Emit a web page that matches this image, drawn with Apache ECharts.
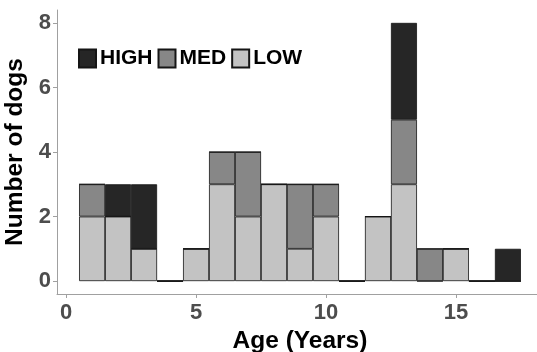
<!DOCTYPE html>
<html>
<head>
<meta charset="utf-8">
<script src="https://cdn.jsdelivr.net/npm/echarts@6/dist/echarts.min.js"></script>
<style>
html,body{margin:0;padding:0;background:#fff;}
#c{width:537px;height:352px;}
</style>
</head>
<body>
<div id="c"></div>
<script>
// Data
const ages = ['1','2','3','4','5','6','7','8','9','10','11','12','13','14','15','16','17'];
const lowCounts  = [2,2,1,0,1,3,2,3,1,2,0,2,3,0,1,0,0];
const medCounts  = [1,0,0,0,0,1,2,0,2,1,0,0,2,1,0,0,0];
const highCounts = [0,1,2,0,0,0,0,0,0,0,0,0,3,0,0,0,1];
const xTicks = [0,5,10,15];
const yTicks = [0,2,4,6,8];
const seriesNames = ['HIGH','MED','LOW'];

const xMin = -0.35, xMax = 18.35, yMin = -0.4, yMax = 8.4;
const W = 537;
const gridLeft = 57, gridRight = -6, gridTop = 10, gridBottom = 58;
const unit = (W - gridLeft - gridRight) / (xMax - xMin);
// bar grid: bins span 0.5 .. 17.5
const barLeft = gridLeft + (0.5 - xMin) * unit;
const barRight = W - (gridLeft + (17.5 - xMin) * unit);

const font = '"Liberation Sans", Arial, sans-serif';
const colors = {HIGH:'#262626', MED:'#878787', LOW:'#c3c3c3'};

function mk(name, vals){
  return {
    name: name,
    type: 'bar',
    stack: 'total',
    xAxisIndex: 1, yAxisIndex: 1,
    barCategoryGap: 0,
    data: vals,
    itemStyle: {color: colors[name], borderColor: '#151515', borderWidth: 0.8},
    emphasis: {disabled: true},
    animation: false
  };
}

const chart = echarts.init(document.getElementById('c'), null, {renderer:'canvas'});
chart.setOption({
  animation: false,
  grid: [
    {left: gridLeft, right: gridRight, top: gridTop, bottom: gridBottom, containLabel: false, outerBoundsMode: 'none'},
    {left: barLeft, right: barRight, top: gridTop, bottom: gridBottom, containLabel: false, outerBoundsMode: 'none'}
  ],
  legend: {
    data: seriesNames,
    left: 73, top: 43,
    itemWidth: 17, itemHeight: 18, itemGap: 5,
    icon: 'rect',
    textStyle: {fontFamily: font, fontWeight: 'bold', fontSize: 21, color: '#000', padding:[0,0,0,-1]}
  },
  xAxis: [{
    type: 'value', min: xMin, max: xMax, gridIndex: 0,
    name: 'Age (Years)', nameLocation: 'middle', nameGap: 33,
    nameTextStyle: {fontFamily: font, fontWeight: 'bold', fontSize: 24.5, color: '#000'},
    axisLine: {show: true, onZero: false, lineStyle: {color: '#a0a0a0', width: 1}},
    axisTick: {show: true, length: 4, lineStyle: {color: '#a0a0a0'}, customValues: xTicks},
    axisLabel: {fontFamily: font, fontWeight: 'bold', fontSize: 22, color: '#4d4d4d', margin: 8, customValues: xTicks},
    splitLine: {show: false}
  }, {
    type: 'category', data: ages, gridIndex: 1, show: false, boundaryGap: true
  }],
  yAxis: [{
    type: 'value', min: yMin, max: yMax, gridIndex: 0,
    name: 'Number of dogs', nameLocation: 'middle', nameGap: 23,
    nameTextStyle: {fontFamily: font, fontWeight: 'bold', fontSize: 24.5, color: '#000'},
    axisLine: {show: true, onZero: false, lineStyle: {color: '#a0a0a0', width: 1}},
    axisTick: {show: true, length: 4, lineStyle: {color: '#a0a0a0'}, customValues: yTicks},
    axisLabel: {fontFamily: font, fontWeight: 'bold', fontSize: 22, color: '#4d4d4d', margin: 6, customValues: yTicks},
    splitLine: {show: false}
  }, {
    type: 'value', min: yMin, max: yMax, gridIndex: 1, show: false
  }],
  series: [mk('LOW', lowCounts), mk('MED', medCounts), mk('HIGH', highCounts)]
});
</script>
</body>
</html>
